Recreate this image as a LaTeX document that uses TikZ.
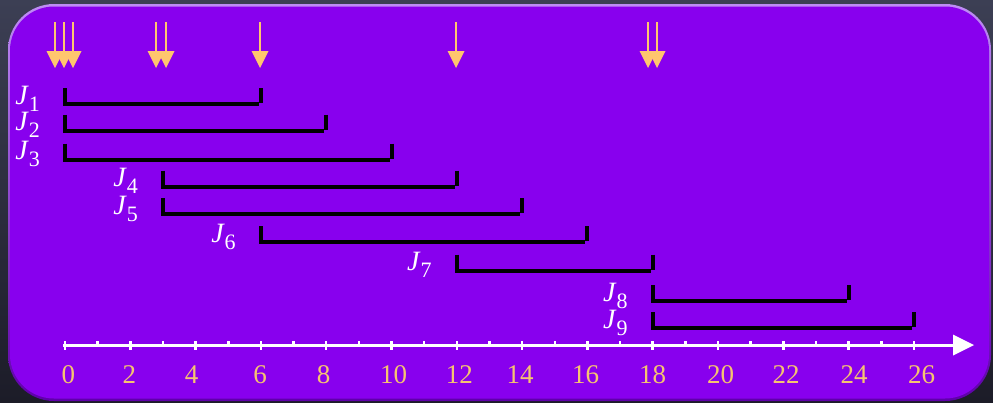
\documentclass[tikz,border=0pt]{standalone}
\usepackage{fontspec}
\setmainfont{Liberation Serif}
\definecolor{bgtop}{RGB}{60,63,84}
\definecolor{bgbot}{RGB}{28,28,40}
\definecolor{panel}{RGB}{136,0,238}
\definecolor{rimtop}{RGB}{190,140,245}
\definecolor{rimbot}{RGB}{95,0,170}
\definecolor{arrowc}{RGB}{255,198,110}
\definecolor{numc}{RGB}{246,196,112}
\begin{document}
\begin{tikzpicture}[x=1pt,y=-1pt,
  jobbar/.style={line width=4pt},
  release/.style={draw=arrowc,line width=2pt},
  relhead/.style={fill=arrowc},
  axisline/.style={white,line width=3pt},
  majortick/.style={white,line width=2.5pt},
  joblabel/.style={anchor=base east,inner sep=0pt,text=white},
  numlabel/.style={text=numc,font=\fontsize{27}{27}\selectfont,anchor=base,inner sep=0pt}]
\shade[top color=bgtop,bottom color=bgbot] (0,0) rectangle (993,402);
\useasboundingbox (0,0) rectangle (993,402);
\shade[top color=rimtop,bottom color=rimbot,rounded corners=46pt] (8,4) rectangle (991,401);
\fill[panel,rounded corners=44pt] (10,6.5) rectangle (989,398.5);
% release arrows
\foreach \x in {55,64,73,156,166,260,456,648,657}{
  \draw[release] (\x,22) -- (\x,52);
  \fill[relhead] (\x-8.5,51) -- (\x+8.5,51) -- (\x,68) -- cycle;
}
% jobs
\foreach \s/\e/\y/\n in {0/6/104/1,0/8/130.5/2,0/10/159.5/3,3/12/186.7/4,3/14/214/5,6/16/242/6,12/18/270.7/7,18/24/301/8,18/26/328/9}{
  \pgfmathsetmacro{\xs}{65+32.65*\s}
  \pgfmathsetmacro{\xe}{65+32.65*\e}
  \draw[jobbar] (\xs,\y-16) -- (\xs,\y) -- (\xe-2,\y);
  \draw[jobbar] (\xe,\y-16) -- (\xe,\y-1);
  \node[joblabel] (j\n) at (\xs-25,\y) {{\fontsize{28}{28}\selectfont\itshape J}\hspace{1pt}\raisebox{-7pt}{\fontsize{22}{22}\selectfont \n}};
}
% axis
\draw[axisline] (63,345) -- (955,345);
\fill[white] (953,334.5) -- (974,345) -- (953,355.5) -- cycle;
\foreach \t in {0,2,...,26}{
  \pgfmathsetmacro{\xt}{65+32.65*\t}
  \draw[majortick] (\xt,341) -- (\xt,350);
}
\foreach \t in {1,3,...,25}{
  \pgfmathsetmacro{\xt}{65+32.65*\t}
  \draw[majortick] (\xt,341) -- (\xt,346);
}
\foreach \c/\v in {68.4/0,129.4/2,191.7/4,260/6,323.5/8,393.5/10,459.3/12,520/14,585.5/16,652.5/18,720.5/20,786/22,854/24,921.6/26}{
  \node[numlabel] (n\v) at (\c,383) {\v};
}
\end{tikzpicture}
\end{document}
